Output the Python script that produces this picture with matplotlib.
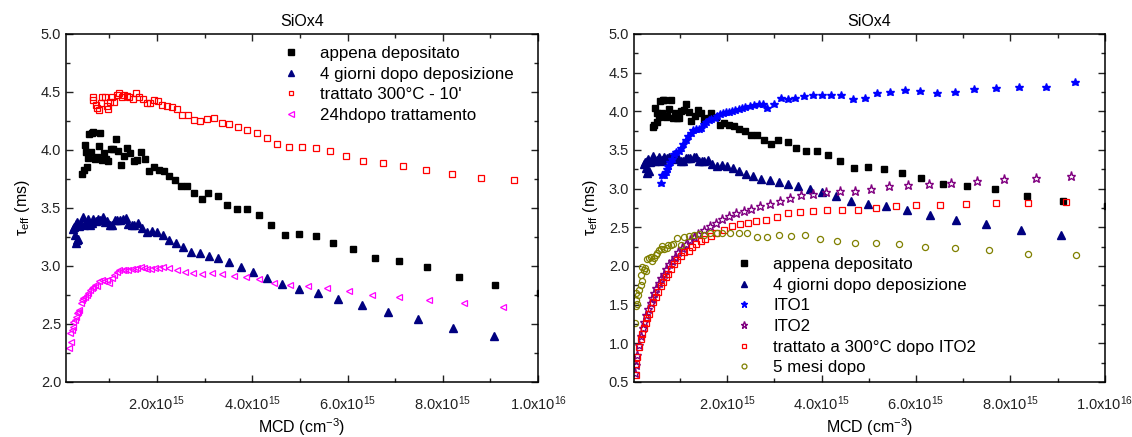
import numpy as np
import matplotlib
matplotlib.use("Agg")
import matplotlib.pyplot as plt
from matplotlib.ticker import MultipleLocator, FixedLocator, FuncFormatter

plt.rcParams['font.family'] = ['Liberation Sans', 'DejaVu Sans']
plt.rcParams['mathtext.fontset'] = 'custom'
plt.rcParams['mathtext.rm'] = 'Liberation Sans'
plt.rcParams['mathtext.it'] = 'Liberation Sans:italic'

# MCD in units of 1e15 cm^-3, tau_eff in ms
# appena depositato (same in both panels)
dep_x = [0.435,0.463,0.526,0.484,0.512,0.561,0.582,0.638,0.666,0.617,0.701,0.736,0.778,0.813,0.848,0.889,0.931,0.980,1.029,1.085,
         1.134,1.190,1.246,1.316,1.379,1.442,1.512,1.589,1.666,1.757,1.841,1.938,2.036,2.141,2.253,2.372,2.498,2.638,2.785,2.939,
         3.078,3.288,3.462,3.672,3.896,4.134,4.385,4.679,4.987,5.330,5.700,6.106,6.574,7.085,7.679,8.343,9.106,10.05]
dep_y = [3.793,3.827,3.856,4.040,3.982,3.933,4.140,4.143,4.152,3.979,3.922,3.942,4.034,4.143,3.913,3.977,3.919,3.908,4.005,4.011,
         4.097,3.994,3.870,3.945,4.017,3.974,3.902,3.910,3.982,3.922,3.821,3.853,3.827,3.816,3.775,3.741,3.689,3.689,3.629,3.577,
         3.626,3.603,3.525,3.488,3.491,3.439,3.356,3.270,3.276,3.256,3.201,3.144,3.066,3.040,2.991,2.902,2.839,2.77]

# 4 giorni dopo deposizione (same in both panels)
g4_x = [0.246,0.281,0.295,0.316,0.351,0.267,0.302,0.330,0.372,0.400,0.442,0.470,0.512,0.561,0.596,0.631,0.666,0.722,0.771,0.806,
        0.862,0.911,0.960,1.015,1.064,1.120,1.169,1.225,1.295,1.344,1.400,1.470,1.519,1.596,1.680,1.785,1.890,2.008,2.134,2.260,
        2.400,2.554,2.715,2.903,3.092,3.288,3.511,3.756,4.008,4.301,4.623,4.980,5.372,5.805,6.295,6.840,7.483,8.218,9.078]
g4_y = [3.316,3.267,3.201,3.224,3.230,3.339,3.362,3.382,3.345,3.362,3.420,3.353,3.368,3.405,3.353,3.368,3.405,3.391,3.405,3.397,
        3.425,3.382,3.391,3.353,3.353,3.397,3.397,3.397,3.405,3.411,3.362,3.353,3.353,3.368,3.325,3.296,3.302,3.290,3.267,3.224,
        3.195,3.161,3.124,3.109,3.086,3.066,3.032,2.994,2.951,2.899,2.845,2.802,2.770,2.718,2.664,2.601,2.543,2.468,2.397]

# trattato 300°C - 10'
t300_x = [0.652,0.666,0.715,0.750,0.785,0.820,0.855,0.911,0.945,0.980,1.015,1.050,1.106,1.155,1.204,1.260,1.309,1.365,1.421,1.491,
          1.561,1.624,1.701,1.785,1.855,1.938,2.015,2.113,2.218,2.316,2.414,2.533,2.659,2.785,2.904,3.043,3.197,3.358,3.518,3.700,
          3.882,4.092,4.302,4.525,4.777,5.036,5.330,5.630,5.966,6.330,6.735,7.169,7.658,8.204,8.812,9.497]
t300_y = [4.454,4.431,4.388,4.364,4.344,4.408,4.454,4.454,4.379,4.350,4.416,4.454,4.416,4.474,4.488,4.454,4.474,4.465,4.454,4.436,
          4.488,4.459,4.436,4.408,4.408,4.431,4.425,4.388,4.382,4.367,4.350,4.301,4.298,4.258,4.250,4.267,4.273,4.235,4.221,4.201,
          4.172,4.149,4.106,4.048,4.022,4.028,4.014,3.994,3.951,3.908,3.885,3.859,3.824,3.790,3.761,3.741]

# 24hdopo trattamento
h24_x = [0.162,0.197,0.176,0.211,0.246,0.232,0.281,0.302,0.330,0.351,0.372,0.400,0.421,0.456,0.491,0.526,0.561,0.596,0.631,0.666,
         0.701,0.736,0.792,0.841,0.889,0.945,1.002,1.050,1.099,1.155,1.211,1.281,1.337,1.400,1.470,1.540,1.589,1.659,1.729,1.799,
         1.869,1.960,2.050,2.134,2.260,2.414,2.589,2.764,2.939,3.162,3.372,3.609,3.875,4.148,4.462,4.791,5.162,5.567,6.022,6.518,
         7.085,7.707,8.441,9.266]
h24_y = [2.290,2.348,2.425,2.448,2.477,2.520,2.535,2.563,2.592,2.606,2.621,2.678,2.707,2.727,2.736,2.750,2.764,2.793,2.807,2.822,
         2.836,2.830,2.871,2.879,2.871,2.879,2.856,2.894,2.922,2.951,2.966,2.966,2.966,2.966,2.971,2.971,2.980,2.994,2.980,2.974,
         2.974,2.980,2.980,2.989,2.980,2.966,2.951,2.937,2.931,2.943,2.934,2.917,2.905,2.885,2.851,2.833,2.828,2.810,2.784,2.750,
         2.736,2.707,2.678,2.649]

# ITO1
ito1_x = [0.592,0.627,0.662,0.698,0.719,0.747,0.789,0.839,0.874,0.923,0.980,1.029,1.064,1.121,1.170,1.226,1.283,1.332,1.402,1.452,
          1.508,1.564,1.614,1.670,1.734,1.790,1.846,1.917,1.987,2.044,2.107,2.178,2.248,2.319,2.389,2.481,2.579,2.671,2.763,2.847,
          2.988,3.143,3.284,3.446,3.622,3.813,4.003,4.207,4.419,4.658,4.912,5.173,5.455,5.758,6.089,6.441,6.815,7.237,7.689,8.189,
          8.753,9.366]
ito1_y = [3.077,3.172,3.181,3.215,3.258,3.293,3.344,3.388,3.452,3.474,3.482,3.525,3.581,3.625,3.681,3.719,3.754,3.775,3.775,3.784,
          3.840,3.862,3.892,3.905,3.918,3.939,3.969,3.978,3.991,3.991,4.004,4.021,4.034,4.047,4.056,4.069,4.077,4.090,4.099,4.043,
          4.099,4.172,4.155,4.172,4.194,4.215,4.215,4.207,4.215,4.164,4.172,4.237,4.250,4.272,4.263,4.241,4.250,4.293,4.302,4.315,
          4.315,4.379]

# ITO2
ito2_x = [0.06,0.08,0.10,0.13,0.17,0.21,0.25,0.29,0.33,0.38,0.42,0.46,0.50,0.55,0.60,0.66,0.71,0.77,0.83,0.90,
          0.97,1.05,1.13,1.21,1.29,1.38,1.508,1.628,1.755,1.896,2.037,2.199,2.354,2.509,2.692,2.903,3.115,3.340,3.573,3.820,
          4.094,4.398,4.715,5.046,5.420,5.821,6.265,6.744,7.287,7.872,8.534,9.281]
ito2_y = [0.62,0.72,0.85,0.98,1.10,1.20,1.28,1.36,1.45,1.52,1.58,1.65,1.71,1.78,1.84,1.90,1.96,2.02,2.07,2.12,
          2.18,2.23,2.29,2.33,2.37,2.42,2.461,2.517,2.560,2.612,2.646,2.685,2.711,2.741,2.775,2.806,2.840,2.884,2.914,2.935,
          2.957,2.970,2.970,2.991,3.030,3.052,3.056,3.078,3.099,3.125,3.138,3.164]

# trattato a 300°C dopo ITO2
tito_x = [0.063,0.078,0.099,0.134,0.169,0.204,0.240,0.275,0.310,0.345,0.395,0.437,0.486,0.536,0.592,0.648,0.698,0.747,0.803,0.874,
          0.944,1.015,1.085,1.191,1.261,1.332,1.438,1.543,1.649,1.755,1.931,2.107,2.269,2.438,2.622,2.833,3.058,3.284,3.538,3.813,
          4.116,4.426,4.771,5.152,5.567,6.004,6.512,7.061,7.689,8.379,9.176]
tito_y = [0.585,0.736,0.823,0.952,1.060,1.124,1.198,1.262,1.327,1.383,1.461,1.534,1.598,1.663,1.741,1.792,1.857,1.900,1.965,2.029,
          2.073,2.129,2.180,2.193,2.245,2.288,2.323,2.353,2.387,2.424,2.460,2.517,2.538,2.560,2.577,2.590,2.633,2.680,2.694,2.707,
          2.720,2.728,2.728,2.750,2.771,2.784,2.793,2.797,2.814,2.819,2.827]

# 5 mesi dopo
m5_x = [0.049,0.063,0.078,0.099,0.063,0.113,0.134,0.169,0.169,0.204,0.240,0.275,0.204,0.254,0.310,0.345,0.395,0.416,0.451,0.486,
        0.522,0.557,0.592,0.627,0.662,0.719,0.747,0.803,0.860,0.930,1.015,1.085,1.191,1.297,1.402,1.508,1.635,1.776,1.896,2.058,
        2.248,2.424,2.636,2.847,3.094,3.362,3.643,3.961,4.327,4.715,5.159,5.645,6.195,6.829,7.555,8.379,9.380]
m5_y = [1.266,1.482,1.555,1.512,1.654,1.620,1.685,1.749,1.879,1.805,1.943,1.935,1.986,1.973,2.085,2.103,2.116,2.064,2.103,2.137,
        2.172,2.202,2.223,2.258,2.215,2.232,2.275,2.275,2.288,2.362,2.275,2.375,2.388,2.396,2.409,2.405,2.431,2.431,2.431,2.431,
        2.426,2.426,2.375,2.375,2.396,2.388,2.396,2.353,2.323,2.301,2.297,2.280,2.250,2.228,2.207,2.159,2.142]

xticks = [2e15, 4e15, 6e15, 8e15, 1e16]


def sci_label(v, pos):
    e = int(np.floor(np.log10(v)))
    m = v / 10**e
    return "%.1fx10$^{%d}$" % (m, e)


def style_axes(ax, ymin, ymax, xmin):
    ax.set_xlim(xmin, 1e16)
    ax.set_ylim(ymin, ymax)
    ax.xaxis.set_major_locator(FixedLocator(xticks))
    ax.xaxis.set_major_formatter(FuncFormatter(sci_label))
    ax.xaxis.set_minor_locator(MultipleLocator(1e15))
    ax.yaxis.set_major_locator(MultipleLocator(0.5))
    ax.yaxis.set_minor_locator(MultipleLocator(0.25))
    ax.yaxis.set_major_formatter(FuncFormatter(lambda v, p: "%.1f" % v))
    ax.tick_params(which='both', direction='in', top=True, right=True, labelsize=10.5, colors='#222222')
    ax.tick_params(which='major', length=5, width=1)
    ax.tick_params(which='minor', length=3, width=1)
    ax.tick_params(axis='x', pad=9)
    for s in ax.spines.values():
        s.set_linewidth(1.1)
    ax.set_title("SiOx4", fontsize=11.5, pad=6)
    ax.set_xlabel("MCD (cm$^{-3}$)", fontsize=11.5, labelpad=2)
    ax.set_ylabel("τ$_{\\mathrm{eff}}$ (ms)", fontsize=11.5, labelpad=6)


fig = plt.figure(figsize=(11.32, 4.37), dpi=100)
ax1 = fig.add_axes([0.0583, 0.1259, 0.4170, 0.7963])
ax2 = fig.add_axes([0.5601, 0.1259, 0.4160, 0.7963])

e15 = 1e15

# left panel
ax1.plot(np.array(dep_x) * e15, dep_y, 's', color='black', ms=4.6, label='appena depositato')
ax1.plot(np.array(g4_x) * e15, g4_y, '^', color='#000080', ms=5.4, label='4 giorni dopo deposizione')
ax1.plot(np.array(t300_x) * e15, t300_y, 's', mfc='none', mec='red', mew=0.9, ms=4.4, label="trattato 300°C - 10'")
ax1.plot(np.array(h24_x) * e15, h24_y, '<', mfc='none', mec='magenta', mew=0.9, ms=4.8, label='24hdopo trattamento')
style_axes(ax1, 2.0, 5.0, 0.09e15)
ax1.legend(loc='upper left', bbox_to_anchor=(0.437, 0.985), frameon=False, fontsize=12.2,
           handletextpad=1.0, labelspacing=0.33, borderaxespad=0, handlelength=1.4, markerscale=0.8)

# right panel
ax2.plot(np.array(dep_x) * e15, dep_y, 's', color='black', ms=4.6, label='appena depositato')
ax2.plot(np.array(g4_x) * e15, g4_y, '^', color='#000080', ms=5.4, label='4 giorni dopo deposizione')
ax2.plot(np.array(ito1_x) * e15, ito1_y, '*', color='blue', ms=6.2, label='ITO1')
ax2.plot(np.array(ito2_x) * e15, ito2_y, '*', mfc='none', mec='purple', mew=1.0, ms=6.5, label='ITO2')
ax2.plot(np.array(tito_x) * e15, tito_y, 's', mfc='none', mec='red', mew=0.9, ms=4.4, label='trattato a 300°C dopo ITO2')
ax2.plot(np.array(m5_x) * e15, m5_y, 'o', mfc='none', mec='#808000', mew=0.9, ms=4.4, label='5 mesi dopo')
style_axes(ax2, 0.5, 5.0, 0.03e15)
ax2.legend(loc='lower left', bbox_to_anchor=(0.195, 0.0), frameon=False, fontsize=12.2,
           handletextpad=1.0, labelspacing=0.33, borderaxespad=0, handlelength=1.4, markerscale=0.8)

fig.savefig("out.png", dpi=100)
